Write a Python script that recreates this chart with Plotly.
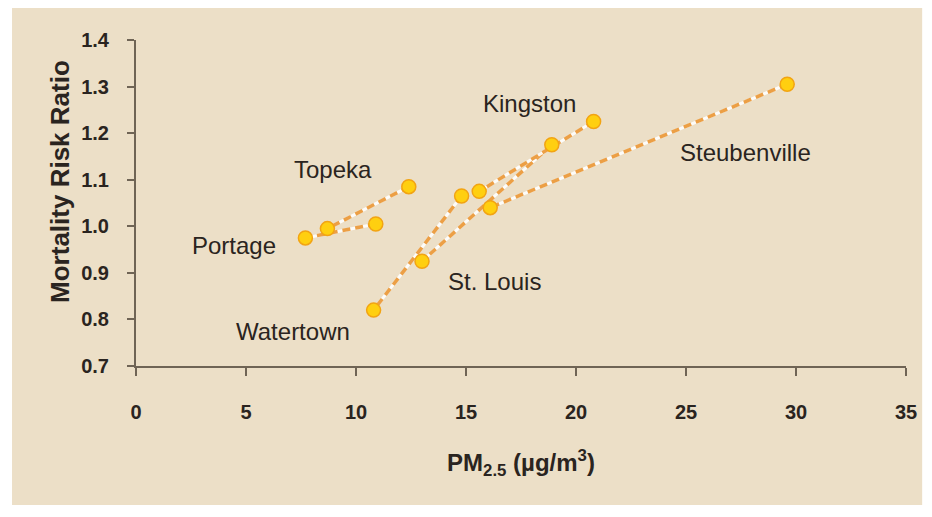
import plotly.graph_objects as go

# ---- data ----
cities = ["Portage", "Topeka", "Watertown", "St. Louis", "Kingston", "Steubenville"]
pm_period1 = [10.9, 12.4, 14.8, 18.9, 20.8, 29.6]
rr_period1 = [1.005, 1.085, 1.065, 1.175, 1.225, 1.305]
pm_period2 = [7.7, 8.7, 10.8, 13.0, 15.6, 16.1]
rr_period2 = [0.975, 0.995, 0.82, 0.925, 1.075, 1.04]

label_x = [4.45, 8.95, 7.15, 16.3, 17.9, 27.7]
label_y = [0.958, 1.123, 0.775, 0.882, 1.264, 1.159]

x_ticks = [0, 5, 10, 15, 20, 25, 30, 35]
y_ticks = [0.7, 0.8, 0.9, 1.0, 1.1, 1.2, 1.3, 1.4]

BEIGE = "#ECDFC7"
ORANGE = "#EC9F45"
TEXT = "#2a2420"
AXIS = "#6f6455"
FONT = "Liberation Sans, Arial, sans-serif"

fig = go.Figure()

for i, c in enumerate(cities):
    xs = [pm_period1[i], pm_period2[i]]
    ys = [rr_period1[i], rr_period2[i]]
    fig.add_trace(go.Scatter(x=xs, y=ys, mode="lines",
                             line=dict(color="rgba(255,255,255,0.9)", width=3),
                             hoverinfo="skip", showlegend=False))
    fig.add_trace(go.Scatter(x=xs, y=ys, mode="lines",
                             line=dict(color=ORANGE, width=3.5, dash="8px,5px"),
                             name=c, showlegend=False))

fig.add_trace(go.Scatter(
    x=pm_period1 + pm_period2, y=rr_period1 + rr_period2, mode="markers",
    marker=dict(size=14, color="#FFCF10", line=dict(color="#F2A413", width=1.5)),
    showlegend=False))

for i, c in enumerate(cities):
    fig.add_annotation(x=label_x[i], y=label_y[i], text=c, showarrow=False,
                       font=dict(family=FONT, size=24, color=TEXT))

# y-axis title placed as in the reference (slightly above plot centre)
fig.add_annotation(xref="paper", yref="paper", x=-0.099, y=0.567,
                   text="Mortality Risk Ratio", textangle=-90, showarrow=False,
                   xanchor="center", yanchor="middle",
                   font=dict(family=FONT, size=26, color=TEXT, weight="bold"))

tick_font = dict(family=FONT, size=20, color=TEXT, weight="bold")

fig.update_layout(
    width=924, height=509,
    margin=dict(l=128, r=26, t=32, b=151),
    paper_bgcolor="white",
    plot_bgcolor=BEIGE,
    shapes=[dict(type="rect", xref="paper", yref="paper",
                 x0=-0.161, x1=1.021, y0=-0.426, y1=1.107,
                 fillcolor=BEIGE, line=dict(width=0), layer="below")],
    xaxis=dict(range=[0, 35], tickvals=x_ticks, ticktext=[str(v) for v in x_ticks],
               showgrid=False, zeroline=False, showline=True, linecolor=AXIS, linewidth=2,
               ticks="outside", ticklen=8, tickcolor=AXIS, tickwidth=1.5,
               ticklabelstandoff=19, automargin=False,
               tickfont=tick_font,
               title=dict(text="PM<sub>2.5</sub> (µg/m<sup>3</sup>)",
                          font=dict(family=FONT, size=24, color=TEXT, weight="bold"),
                          standoff=32)),
    yaxis=dict(range=[0.7, 1.4], tickvals=y_ticks, ticktext=[f"{v:.1f}" for v in y_ticks],
               showgrid=False, zeroline=False, showline=True, linecolor=AXIS, linewidth=2,
               ticks="outside", ticklen=7, tickcolor=AXIS, tickwidth=1.5,
               ticklabelstandoff=14, automargin=False,
               tickfont=tick_font),
)

fig.write_html("out.html")
